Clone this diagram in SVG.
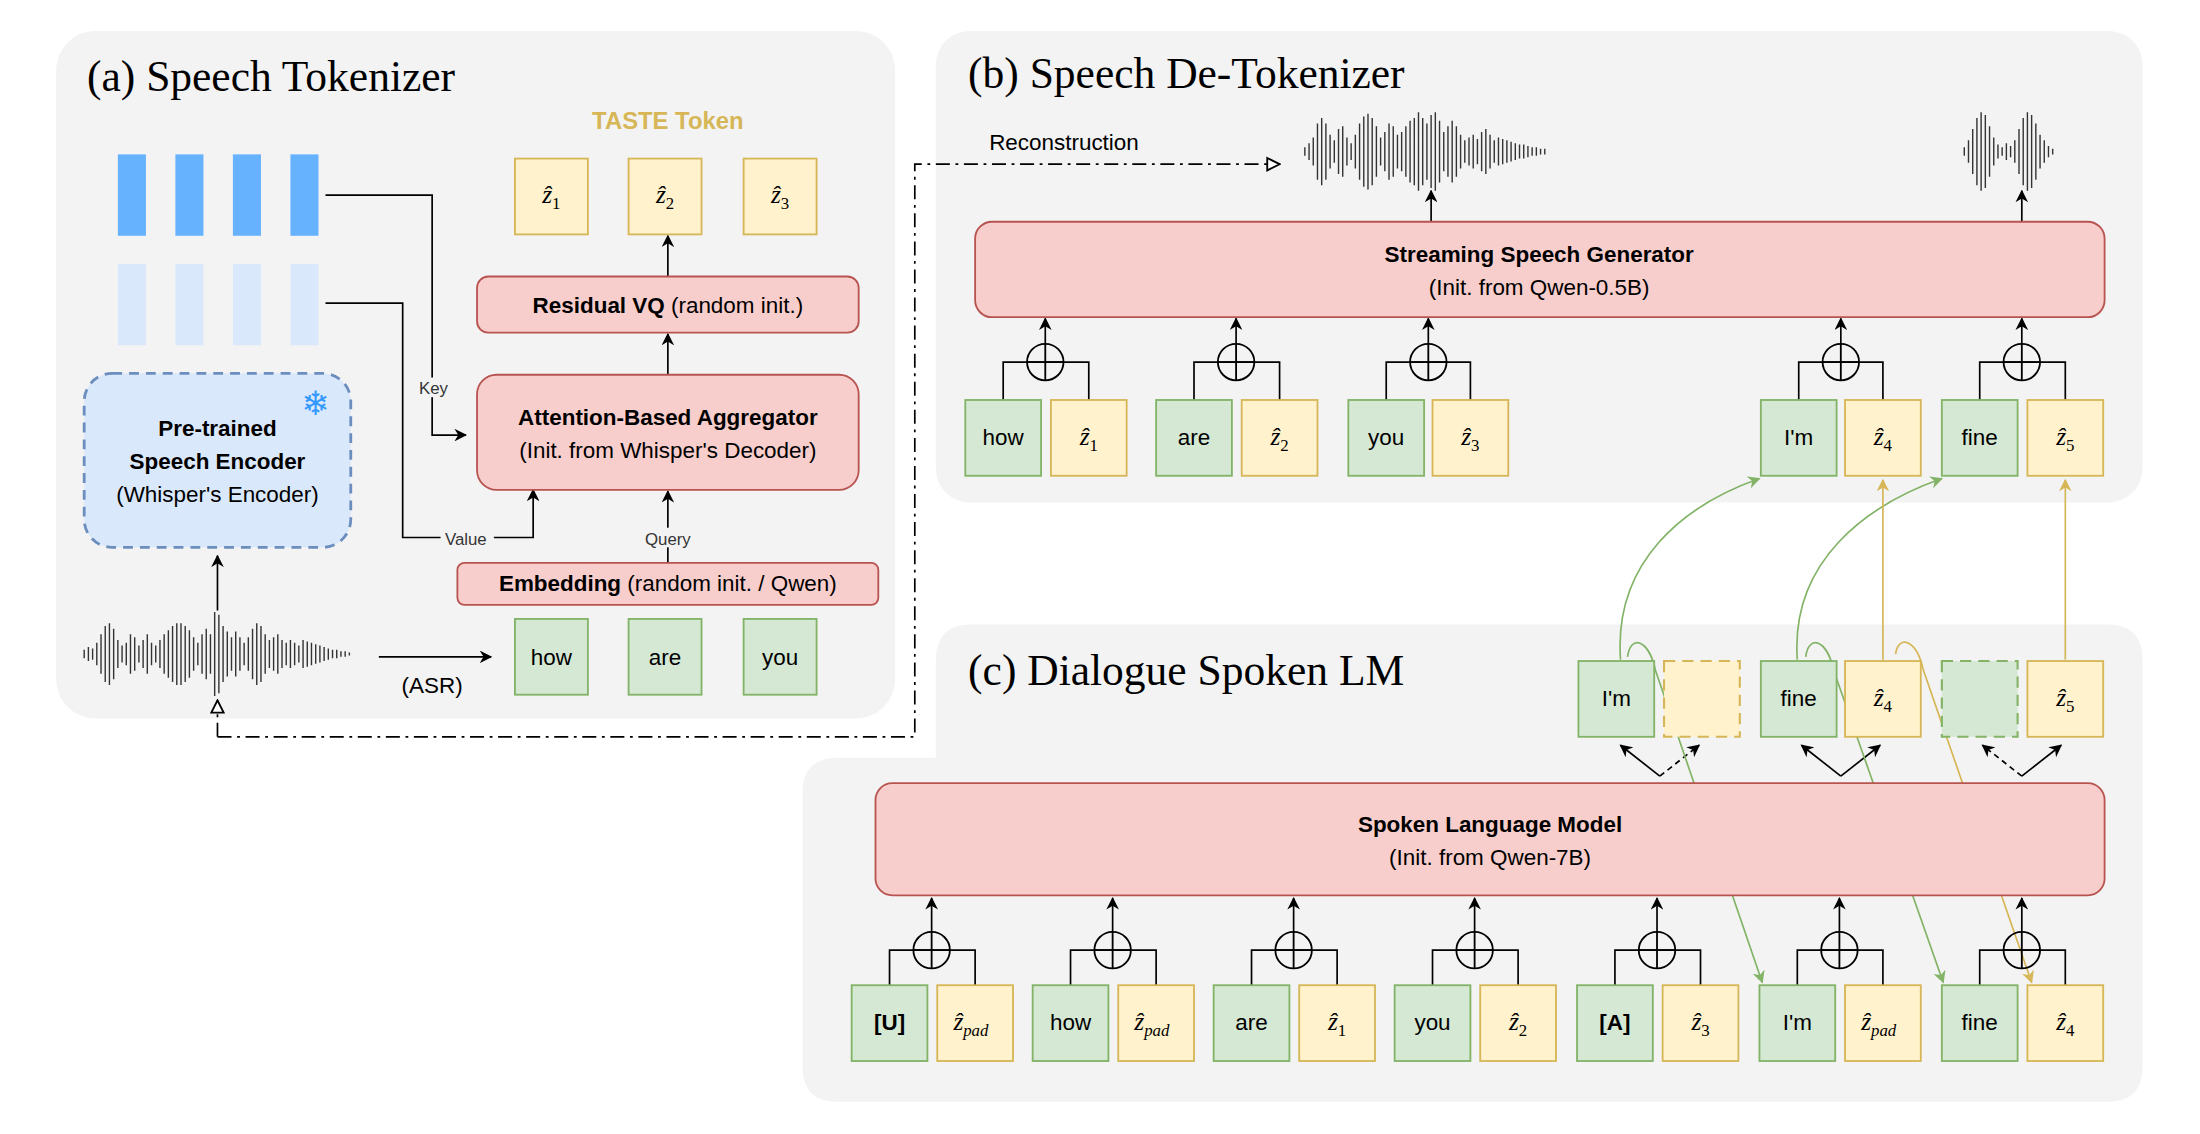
<svg xmlns="http://www.w3.org/2000/svg" width="2200" height="1134" viewBox="0 0 2200 1134">
<defs>
<style>
.panel{fill:#f3f3f3}
.title{font-family:"Liberation Serif",serif;font-size:31px;fill:#000}
.t{font-family:"Liberation Sans",Arial,sans-serif;font-size:16px;fill:#000;text-anchor:middle}
.b{font-weight:bold}
.s{font-family:"Liberation Sans",Arial,sans-serif;font-size:12px;fill:#333;text-anchor:middle}
.z{font-family:"Liberation Serif","DejaVu Serif",serif;font-style:italic;font-size:18px;fill:#000;text-anchor:middle}
.g{fill:#d5e8d4;stroke:#82b366;stroke-width:1.3}
.y{fill:#fff2cc;stroke:#d6b656;stroke-width:1.3}
.gd{fill:#d5e8d4;stroke:#82b366;stroke-width:1.5;stroke-dasharray:8 5}
.yd{fill:#fff2cc;stroke:#d6b656;stroke-width:1.5;stroke-dasharray:8 5}
.r{fill:#f8cecc;stroke:#b85450;stroke-width:1.3}
.ln{fill:none;stroke:#000;stroke-width:1.2}
.ar{fill:none;stroke:#000;stroke-width:1.2;marker-end:url(#a)}
.wv{fill:none;stroke:#333;stroke-width:1}
.pl{fill:none;stroke:#000;stroke-width:1.2}
</style>
<marker id="a" viewBox="0 0 10 10" refX="9" refY="5" markerWidth="9" markerHeight="9" orient="auto" markerUnits="userSpaceOnUse"><path d="M0,0 L10,5 L0,10 L3,5z" fill="#000"/></marker>
<marker id="ag" viewBox="0 0 10 10" refX="9" refY="5" markerWidth="9" markerHeight="9" orient="auto" markerUnits="userSpaceOnUse"><path d="M0,0 L10,5 L0,10 L3,5z" fill="#82b366"/></marker>
<marker id="ay" viewBox="0 0 10 10" refX="9" refY="5" markerWidth="9" markerHeight="9" orient="auto" markerUnits="userSpaceOnUse"><path d="M0,0 L10,5 L0,10 L3,5z" fill="#d6b656"/></marker>
<marker id="ao" viewBox="0 0 10 10" refX="9" refY="5" markerWidth="11" markerHeight="11" orient="auto" markerUnits="userSpaceOnUse"><path d="M1,1 L9,5 L1,9z" fill="#fff" stroke="#000" stroke-width="1.2"/></marker>
<g id="plus"><circle cx="0" cy="0" r="13" fill="none" stroke="#000" stroke-width="1.3"/><path d="M-13,0H13M0,-13V13" stroke="#000" stroke-width="1.3"/></g>
</defs>
<rect width="2200" height="1134" fill="#fff"/>
<g transform="scale(1.40306,1.40346)">
<g id="panels">
<rect class="panel" x="40" y="22" width="598" height="490" rx="28"/>
<rect class="panel" x="667" y="22" width="860" height="336" rx="24"/>
<path class="panel" d="M692,445 H1502 Q1527,445 1527,470 V760 Q1527,785 1502,785 H597 Q572,785 572,760 V565 Q572,540 597,540 H667 V470 Q667,445 692,445 Z"/>
</g>
<text class="title" x="62" y="65">(a) Speech Tokenizer</text>
<text class="title" x="690" y="63">(b) Speech De-Tokenizer</text>
<text class="title" x="690" y="488">(c) Dialogue Spoken LM</text>

<g id="connectors">
<path class="ar" d="M232,139 H308 V310 H332"/>
<path class="ar" d="M232,216 H287 V383 H380 V349"/>
<path class="ar" d="M476,401 V350"/>
<path class="ar" d="M476,267 V238"/>
<path class="ar" d="M476,197 V168"/>
<path class="ar" d="M155,435 V396"/>
<path class="ar" d="M270,468 H350"/>
<path d="M155,525 V499" fill="none" stroke="#000" stroke-width="1.2" stroke-dasharray="10 4 2 4" marker-end="url(#ao)"/>
<path d="M155,525 H652 V117 H912" fill="none" stroke="#000" stroke-width="1.2" stroke-dasharray="10 4 2 4" marker-end="url(#ao)"/>
<path class="ar" d="M1020,158 V136"/>
<path class="ar" d="M1441,158 V136"/>
<path class="ar" d="M745,245 V227"/>
<path class="ar" d="M881,245 V227"/>
<path class="ar" d="M1018,245 V227"/>
<path class="ar" d="M1312,245 V227"/>
<path class="ar" d="M1441,245 V227"/>
<path class="ar" d="M664,664 V640"/>
<path class="ar" d="M793,664 V640"/>
<path class="ar" d="M922,664 V640"/>
<path class="ar" d="M1051,664 V640"/>
<path class="ar" d="M1181,664 V640"/>
<path class="ar" d="M1311,664 V640"/>
<path class="ar" d="M1441,664 V640"/>
<path class="ar" d="M1183,553 L1155,531"/>
<path class="ar" d="M1183,553 L1211,531" stroke-dasharray="4 3"/>
<path class="ar" d="M1312,553 L1284,531"/>
<path class="ar" d="M1312,553 L1340,531"/>
<path class="ar" d="M1441,553 L1413,531" stroke-dasharray="4 3"/>
<path class="ar" d="M1441,553 L1469,531"/>
<path d="M1155,470 C1150,400 1200,360 1254,341" fill="none" stroke="#82b366" stroke-width="1.2" marker-end="url(#ag)"/>
<path d="M1281,470 C1276,400 1330,360 1384,341" fill="none" stroke="#82b366" stroke-width="1.2" marker-end="url(#ag)"/>
<path d="M1342,470 V342" fill="none" stroke="#d6b656" stroke-width="1.2" marker-end="url(#ay)"/>
<path d="M1472,470 V342" fill="none" stroke="#d6b656" stroke-width="1.2" marker-end="url(#ay)"/>
<path d="M1160,468 C1162,452 1175,455 1180,478 L1256,700" fill="none" stroke="#82b366" stroke-width="1.2" marker-end="url(#ag)"/>
<path d="M1287,468 C1289,452 1302,455 1307,478 L1385,700" fill="none" stroke="#82b366" stroke-width="1.2" marker-end="url(#ag)"/>
<path d="M1351,466 C1353,452 1366,455 1371,478 L1448,700" fill="none" stroke="#d6b656" stroke-width="1.2" marker-end="url(#ay)"/>
</g>

<g id="tokenizer">
<g id="bars">
<rect x="84" y="110" width="20" height="58" fill="#66b2ff"/><rect x="125" y="110" width="20" height="58" fill="#66b2ff"/><rect x="166" y="110" width="20" height="58" fill="#66b2ff"/><rect x="207" y="110" width="20" height="58" fill="#66b2ff"/>
<rect x="84" y="188" width="20" height="58" fill="#dae8fc"/><rect x="125" y="188" width="20" height="58" fill="#dae8fc"/><rect x="166" y="188" width="20" height="58" fill="#dae8fc"/><rect x="207" y="188" width="20" height="58" fill="#dae8fc"/>
</g>
<rect x="302" y="269" width="14" height="14" class="panel"/>
<text class="s" x="309" y="281">Key</text>
<rect x="314" y="376" width="38" height="14" class="panel"/>
<text class="s" x="332" y="388">Value</text>
<rect x="456" y="376" width="40" height="14" class="panel"/>
<text class="s" x="476" y="388">Query</text>
<g id="encoder"><rect x="60" y="266" width="190" height="124" rx="20" fill="#dae8fc" stroke="#6c8ebf" stroke-width="2" stroke-dasharray="7 5"/>
<text class="t b" x="155" y="311">Pre-trained</text><text class="t b" x="155" y="334">Speech Encoder</text><text class="t" x="155" y="358">(Whisper's Encoder)</text>
<text x="225" y="296" font-family="DejaVu Sans,sans-serif" font-size="24" fill="#3399ff" text-anchor="middle">❄</text></g>
<path class="wv" d="M60 463V469M63 461V471M66 462V470M69 458V474M72 452V480M75 446V486M78 444V488M81 448V484M84 456V476M87 460V472M90 458V474M93 452V480M96 454V478M99 460V472M102 456V476M105 452V480M108 458V474M111 460V472M114 456V476M117 452V480M120 449V483M123 446V486M126 444V488M129 444V488M132 446V486M135 449V483M138 454V478M141 458V474M144 452V480M147 448V484M150 452V480M153 436V496M156 438V494M159 446V486M162 450V482M165 454V478M168 450V482M171 454V478M174 458V474M177 454V478M180 448V484M183 444V488M186 446V486M189 452V480M192 456V476M195 454V478M198 452V480M201 456V476M204 458V474M207 456V476M210 458V474M213 460V472M216 456V476M219 457V475M222 458V474M225 459V473M228 460V472M231 461V471M234 462V470M237 463V469M240 463V469M243 464V468M246 464V468M249 465V467"/>
<text class="t" x="308" y="494">(ASR)</text>
<g id="a-how"><rect class="g" x="367" y="441" width="52" height="54"/><text class="t" x="393" y="474">how</text></g>
<g id="a-are"><rect class="g" x="448" y="441" width="52" height="54"/><text class="t" x="474" y="474">are</text></g>
<g id="a-you"><rect class="g" x="530" y="441" width="52" height="54"/><text class="t" x="556" y="474">you</text></g>
<g id="embedding"><rect class="r" x="326" y="401" width="300" height="30" rx="5"/><text class="t" x="476" y="421"><tspan font-weight="bold">Embedding</tspan> (random init. / Qwen)</text></g>
<g id="aggregator"><rect class="r" x="340" y="267" width="272" height="82" rx="14"/><text class="t b" x="476" y="303">Attention-Based Aggregator</text><text class="t" x="476" y="326">(Init. from Whisper's Decoder)</text></g>
<g id="rvq"><rect class="r" x="340" y="197" width="272" height="40" rx="8"/><text class="t" x="476" y="223"><tspan font-weight="bold">Residual VQ</tspan> (random init.)</text></g>
<text x="476" y="92" font-family="Liberation Sans,Arial,sans-serif" font-size="17" font-weight="bold" fill="#d6b656" text-anchor="middle">TASTE Token</text>
<g id="a-z1"><rect class="y" x="367" y="113" width="52" height="54"/><text class="z" x="393" y="145">ẑ<tspan font-size="12" dy="4" font-style="normal">1</tspan></text></g>
<g id="a-z2"><rect class="y" x="448" y="113" width="52" height="54"/><text class="z" x="474" y="145">ẑ<tspan font-size="12" dy="4" font-style="normal">2</tspan></text></g>
<g id="a-z3"><rect class="y" x="530" y="113" width="52" height="54"/><text class="z" x="556" y="145">ẑ<tspan font-size="12" dy="4" font-style="normal">3</tspan></text></g>
</g>

<g id="detokenizer">
<text x="705" y="107" font-family="Liberation Sans,Arial,sans-serif" font-size="16" fill="#000">Reconstruction</text>
<path class="wv" d="M930 105V111M933 102V114M936 98V118M939 88V128M942 84V132M945 88V128M948 96V120M951 100V116M954 92V124M957 90V126M960 98V118M963 102V114M966 96V120M969 88V128M972 83V133M975 81V135M978 84V132M981 90V126M984 98V118M987 94V122M990 88V128M993 90V126M996 96V120M999 94V122M1002 90V126M1005 86V130M1008 84V132M1011 80V136M1014 84V132M1017 88V128M1020 82V134M1023 80V136M1026 86V130M1029 94V122M1032 90V126M1035 86V130M1038 90V126M1041 96V120M1044 100V116M1047 98V118M1050 96V120M1053 99V117M1056 94V122M1059 92V124M1062 96V120M1065 100V116M1068 98V118M1071 99V117M1074 100V116M1077 101V115M1080 102V114M1083 103V113M1086 103V113M1089 104V112M1092 105V111M1095 105V111M1098 106V110M1101 106V110"/>
<path class="wv" d="M1400 105V111M1403 100V116M1406 92V124M1409 84V132M1412 80V136M1415 82V134M1418 90V126M1421 98V118M1424 103V113M1427 105V111M1430 102V114M1433 104V112M1436 100V116M1439 92V124M1442 84V132M1445 80V136M1448 82V134M1451 88V128M1454 96V120M1457 100V116M1460 104V112M1463 106V110"/>
<g id="generator"><rect class="r" x="695" y="158" width="805" height="68" rx="12"/><text class="t b" x="1097" y="187">Streaming Speech Generator</text><text class="t" x="1097" y="210">(Init. from Qwen-0.5B)</text></g>
<path class="pl" d="M715,285V258H776V285M851,285V258H912V285M988,285V258H1048V285M1282,285V258H1342V285M1411,285V258H1472V285"/>
<use href="#plus" x="745" y="258"/><use href="#plus" x="881" y="258"/><use href="#plus" x="1018" y="258"/><use href="#plus" x="1312" y="258"/><use href="#plus" x="1441" y="258"/>
<g id="b-how"><rect class="g" x="688" y="285" width="54" height="54"/><text class="t" x="715" y="317">how</text></g>
<g id="b-z1"><rect class="y" x="749" y="285" width="54" height="54"/><text class="z" x="776" y="317">ẑ<tspan font-size="12" dy="4" font-style="normal">1</tspan></text></g>
<g id="b-are"><rect class="g" x="824" y="285" width="54" height="54"/><text class="t" x="851" y="317">are</text></g>
<g id="b-z2"><rect class="y" x="885" y="285" width="54" height="54"/><text class="z" x="912" y="317">ẑ<tspan font-size="12" dy="4" font-style="normal">2</tspan></text></g>
<g id="b-you"><rect class="g" x="961" y="285" width="54" height="54"/><text class="t" x="988" y="317">you</text></g>
<g id="b-z3"><rect class="y" x="1021" y="285" width="54" height="54"/><text class="z" x="1048" y="317">ẑ<tspan font-size="12" dy="4" font-style="normal">3</tspan></text></g>
<g id="b-im"><rect class="g" x="1255" y="285" width="54" height="54"/><text class="t" x="1282" y="317">I'm</text></g>
<g id="b-z4"><rect class="y" x="1315" y="285" width="54" height="54"/><text class="z" x="1342" y="317">ẑ<tspan font-size="12" dy="4" font-style="normal">4</tspan></text></g>
<g id="b-fine"><rect class="g" x="1384" y="285" width="54" height="54"/><text class="t" x="1411" y="317">fine</text></g>
<g id="b-z5"><rect class="y" x="1445" y="285" width="54" height="54"/><text class="z" x="1472" y="317">ẑ<tspan font-size="12" dy="4" font-style="normal">5</tspan></text></g>
</g>

<g id="dialogue">
<g id="c-im-top"><rect class="g" x="1125" y="471" width="54" height="54"/><text class="t" x="1152" y="503">I'm</text></g>
<g id="c-pad-top"><rect class="yd" x="1186" y="471" width="54" height="54"/></g>
<g id="c-fine-top"><rect class="g" x="1255" y="471" width="54" height="54"/><text class="t" x="1282" y="503">fine</text></g>
<g id="c-z4-top"><rect class="y" x="1315" y="471" width="54" height="54"/><text class="z" x="1342" y="503">ẑ<tspan font-size="12" dy="4" font-style="normal">4</tspan></text></g>
<g id="c-gpad-top"><rect class="gd" x="1384" y="471" width="54" height="54"/></g>
<g id="c-z5-top"><rect class="y" x="1445" y="471" width="54" height="54"/><text class="z" x="1472" y="503">ẑ<tspan font-size="12" dy="4" font-style="normal">5</tspan></text></g>
<g id="slm"><rect class="r" x="624" y="558" width="876" height="80" rx="12"/><text class="t b" x="1062" y="593">Spoken Language Model</text><text class="t" x="1062" y="616">(Init. from Qwen-7B)</text></g>
<path class="pl" d="M634,702V677H695V702M763,702V677H824V702M892,702V677H953V702M1021,702V677H1082V702M1151,702V677H1212V702M1281,702V677H1342V702M1411,702V677H1472V702"/>
<use href="#plus" x="664" y="677"/><use href="#plus" x="793" y="677"/><use href="#plus" x="922" y="677"/><use href="#plus" x="1051" y="677"/><use href="#plus" x="1181" y="677"/><use href="#plus" x="1311" y="677"/><use href="#plus" x="1441" y="677"/>
<g id="c-u"><rect class="g" x="607" y="702" width="54" height="54"/><text class="t b" x="634" y="734">[U]</text></g>
<g id="c-zp1"><rect class="y" x="668" y="702" width="54" height="54"/><text class="z" x="692" y="734">ẑ<tspan font-size="12" dy="4">pad</tspan></text></g>
<g id="c-how"><rect class="g" x="736" y="702" width="54" height="54"/><text class="t" x="763" y="734">how</text></g>
<g id="c-zp2"><rect class="y" x="797" y="702" width="54" height="54"/><text class="z" x="821" y="734">ẑ<tspan font-size="12" dy="4">pad</tspan></text></g>
<g id="c-are"><rect class="g" x="865" y="702" width="54" height="54"/><text class="t" x="892" y="734">are</text></g>
<g id="c-z1"><rect class="y" x="926" y="702" width="54" height="54"/><text class="z" x="953" y="734">ẑ<tspan font-size="12" dy="4" font-style="normal">1</tspan></text></g>
<g id="c-you"><rect class="g" x="994" y="702" width="54" height="54"/><text class="t" x="1021" y="734">you</text></g>
<g id="c-z2"><rect class="y" x="1055" y="702" width="54" height="54"/><text class="z" x="1082" y="734">ẑ<tspan font-size="12" dy="4" font-style="normal">2</tspan></text></g>
<g id="c-a"><rect class="g" x="1124" y="702" width="54" height="54"/><text class="t b" x="1151" y="734">[A]</text></g>
<g id="c-z3"><rect class="y" x="1185" y="702" width="54" height="54"/><text class="z" x="1212" y="734">ẑ<tspan font-size="12" dy="4" font-style="normal">3</tspan></text></g>
<g id="c-im"><rect class="g" x="1254" y="702" width="54" height="54"/><text class="t" x="1281" y="734">I'm</text></g>
<g id="c-zp3"><rect class="y" x="1315" y="702" width="54" height="54"/><text class="z" x="1339" y="734">ẑ<tspan font-size="12" dy="4">pad</tspan></text></g>
<g id="c-fine"><rect class="g" x="1384" y="702" width="54" height="54"/><text class="t" x="1411" y="734">fine</text></g>
<g id="c-z4"><rect class="y" x="1445" y="702" width="54" height="54"/><text class="z" x="1472" y="734">ẑ<tspan font-size="12" dy="4" font-style="normal">4</tspan></text></g>
</g>
</g>
</svg>
